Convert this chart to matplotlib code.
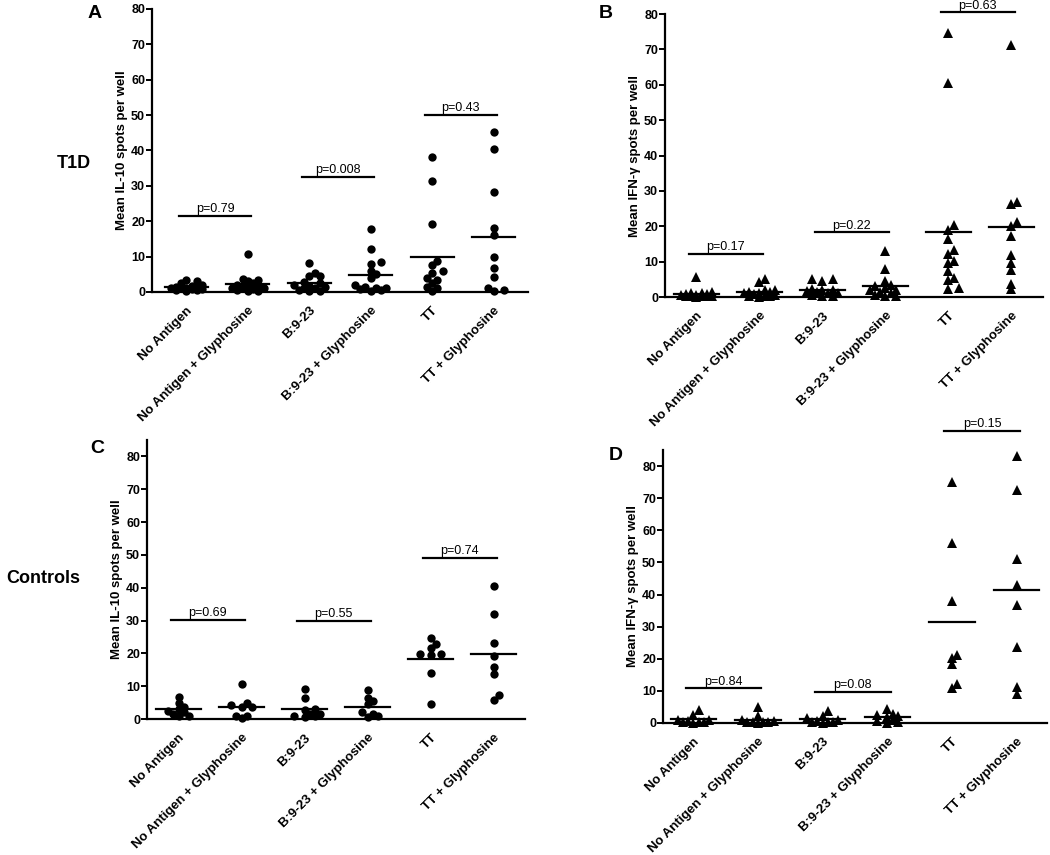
import numpy as np
import matplotlib.pyplot as plt

plt.rcParams['font.family'] = ['Liberation Sans', 'DejaVu Sans']

groups = ['No Antigen', 'No Antigen + Glyphosine', 'B:9-23',
          'B:9-23 + Glyphosine', 'TT', 'TT + Glyphosine']

# panel A: T1D, IL-10
a_vals = [
    [0.3, 0.5, 0.6, 0.8, 1.0, 1.0, 1.2, 1.3, 1.5, 1.7, 2.0, 2.5, 3.0, 3.5, 0.9],
    [10.8, 3.8, 3.5, 3.2, 2.5, 2.0, 1.8, 1.5, 1.2, 1.0, 0.8, 0.5, 0.3, 1.2, 0.2],
    [8.2, 5.5, 4.5, 4.5, 2.5, 2.0, 1.8, 1.5, 1.0, 0.5, 0.3, 0.2, 1.2, 2.8],
    [17.8, 12.2, 8.5, 8.0, 6.0, 5.0, 4.0, 2.0, 1.5, 1.0, 0.8, 0.5, 0.3, 1.2],
    [38.2, 31.3, 19.3, 8.8, 7.5, 6.0, 5.5, 4.0, 3.5, 2.5, 1.5, 0.2, 1.0],
    [45.2, 40.5, 28.3, 18.2, 16.2, 9.8, 6.8, 4.2, 1.0, 0.2, 0.5],
]
a_p = ['p=0.79', 'p=0.008', 'p=0.43']
a_bar = [21.5, 32.5, 50.0]

# panel B: T1D, IFN-g
b_vals = [
    [5.8, 1.5, 1.0, 0.5, 0.3, 0.2, 0.8, 1.2, 0.4, 0.1, 0.6, 0.9, 0.2, 0.3],
    [5.0, 4.2, 2.0, 1.5, 1.2, 1.0, 0.5, 0.3, 0.2, 0.8, 2.0, 1.5, 0.4, 0.1],
    [5.0, 4.5, 5.0, 2.2, 2.0, 1.5, 1.0, 0.5, 0.3, 2.0, 1.0, 0.2, 1.8],
    [13.0, 8.0, 4.5, 3.5, 3.0, 2.5, 2.0, 1.5, 0.5, 0.3, 1.0, 2.0, 0.2],
    [74.7, 60.5, 20.3, 19.0, 16.5, 13.2, 12.3, 10.2, 9.5, 7.3, 5.5, 4.8, 2.2, 2.5],
    [71.2, 27.0, 26.3, 21.2, 20.0, 17.2, 12.0, 9.7, 7.5, 3.8, 2.2],
]
b_p = ['p=0.17', 'p=0.22', 'p=0.63']
b_bar = [12.3, 18.3, 80.5]

# panel C: controls, IL-10
c_vals = [
    [6.8, 5.0, 3.8, 3.0, 2.0, 1.5, 1.0, 0.8, 2.5],
    [10.7, 4.8, 3.8, 3.8, 1.0, 1.0, 0.2, 4.2],
    [9.2, 6.5, 3.2, 2.8, 1.5, 1.0, 0.8, 0.5, 1.5],
    [8.8, 6.5, 5.5, 2.0, 1.5, 0.5, 0.8, 4.5],
    [24.8, 23.0, 21.8, 19.8, 19.8, 19.5, 14.0, 4.5],
    [40.5, 32.0, 23.2, 19.3, 15.8, 13.8, 7.3, 5.8],
]
c_p = ['p=0.69', 'p=0.55', 'p=0.74']
c_bar = [30.3, 30.0, 49.2]

# panel D: controls, IFN-g
d_vals = [
    [2.5, 4.0, 1.0, 0.5, 0.3, 0.2, 0.1, 0.2, 1.0],
    [2.3, 5.0, 0.8, 0.3, 0.2, 0.1, 0.3, 0.2, 0.5],
    [2.3, 3.8, 1.5, 0.5, 0.3, 0.2, 0.1, 0.2, 1.0],
    [2.8, 4.2, 2.0, 2.5, 1.0, 0.3, 0.1, 0.5, 2.2],
    [75.0, 56.0, 38.0, 21.2, 20.3, 18.5, 12.2, 10.8],
    [83.0, 72.5, 51.2, 43.0, 36.8, 23.7, 11.2, 9.0],
]
d_p = ['p=0.84', 'p=0.08', 'p=0.15']
d_bar = [10.8, 9.8, 90.9]


def swarm(ax, x0, vals, size, maxoff=0.32):
    # spread close values sideways (pixel space), but keep within +-maxoff
    px0 = ax.transData.transform((x0, 0))[0]
    lim = ax.transData.transform((x0 + maxoff, 0))[0] - px0
    step = size * 0.75
    cands = [0.0]
    k = 1
    while k * step <= lim:
        cands += [k * step, -k * step]
        k += 1
    placed = []
    xs = np.zeros(len(vals))
    for i in np.argsort(vals):
        py = ax.transData.transform((x0, vals[i]))[1]
        best, bestd = 0.0, -1
        for c in cands:
            d = min([np.hypot(px0 + c - qx, py - qy) for qx, qy in placed] + [1e9])
            if d >= size * 0.8:
                best = c
                break
            if d > bestd:
                best, bestd = c, d
        placed.append((px0 + best, py))
        xs[i] = ax.transData.inverted().transform((px0 + best, py))[0]
    return xs


def panel(rect, vals, marker, msize, pvals, bars, ymax, xlo, ylabel):
    ax = fig.add_axes(rect)
    ax.set_xlim(xlo, 5 - xlo)
    ax.set_ylim(0, ymax)
    for i, v in enumerate(vals):
        xs = swarm(ax, i, v, 7)
        ax.plot(xs, v, marker, color='black', ms=msize, mew=0, ls='none',
                clip_on=False, zorder=3)
        m = np.mean(v)
        ax.plot([i - 0.35, i + 0.35], [m, m], color='black', lw=1.6, zorder=2)
    for j, (p, y) in enumerate(zip(pvals, bars)):
        x1, x2 = 2 * j - 0.12, 2 * j + 1.05
        ax.plot([x1, x2], [y, y], color='black', lw=1.6, clip_on=False)
        ax.annotate(p, ((x1 + x2) / 2, y), xytext=(0, 0.5), textcoords='offset points',
                    ha='center', va='bottom', fontsize=9, annotation_clip=False)
    ax.spines[['top', 'right']].set_visible(False)
    ax.spines[['left', 'bottom']].set_linewidth(1.6)
    ax.set_yticks(range(0, 81, 10))
    ax.tick_params(axis='y', direction='out', length=4, width=1.4, labelsize=9, pad=1)
    for t in ax.get_yticklabels():
        t.set_fontweight('bold')
    ax.set_xticks(range(6))
    ax.set_xticklabels(groups, rotation=45, ha='right', rotation_mode='anchor',
                       fontweight='bold', fontsize=9.5)
    ax.tick_params(axis='x', length=0, pad=9)
    ax.set_ylabel(ylabel, fontweight='bold', fontsize=9.5, labelpad=2)
    return ax


fig = plt.figure(figsize=(10.5, 8.55), dpi=100)

panel([0.1448, 0.6585, 0.358, 0.331], a_vals, 'o', 6, a_p, a_bar, 80, -0.56,
      'Mean IL-10 spots per well')
panel([0.6333, 0.6526, 0.36, 0.331], b_vals, '^', 6.5, b_p, b_bar, 80, -0.5,
      'Mean IFN-\u03b3 spots per well')
panel([0.14, 0.159, 0.36, 0.3263], c_vals, 'o', 6, c_p, c_bar, 85, -0.5,
      'Mean IL-10 spots per well')
panel([0.6314, 0.1544, 0.3657, 0.3193], d_vals, '^', 6.5, d_p, d_bar, 85, -0.47,
      'Mean IFN-\u03b3 spots per well')

fig.text(95 / 1050, 1 - 13 / 855, 'A', fontsize=14, fontweight='bold', ha='center', va='center')
fig.text(606 / 1050, 1 - 14 / 855, 'B', fontsize=14, fontweight='bold', ha='center', va='center')
fig.text(97 / 1050, 1 - 448 / 855, 'C', fontsize=14, fontweight='bold', ha='center', va='center')
fig.text(616 / 1050, 1 - 455 / 855, 'D', fontsize=14, fontweight='bold', ha='center', va='center')
fig.text(74 / 1050, 1 - 163 / 855, 'T1D', fontsize=13, fontweight='bold', ha='center', va='center')
fig.text(43 / 1050, 1 - 578 / 855, 'Controls', fontsize=13, fontweight='bold', ha='center', va='center')

fig.savefig('out.png', dpi=100)
